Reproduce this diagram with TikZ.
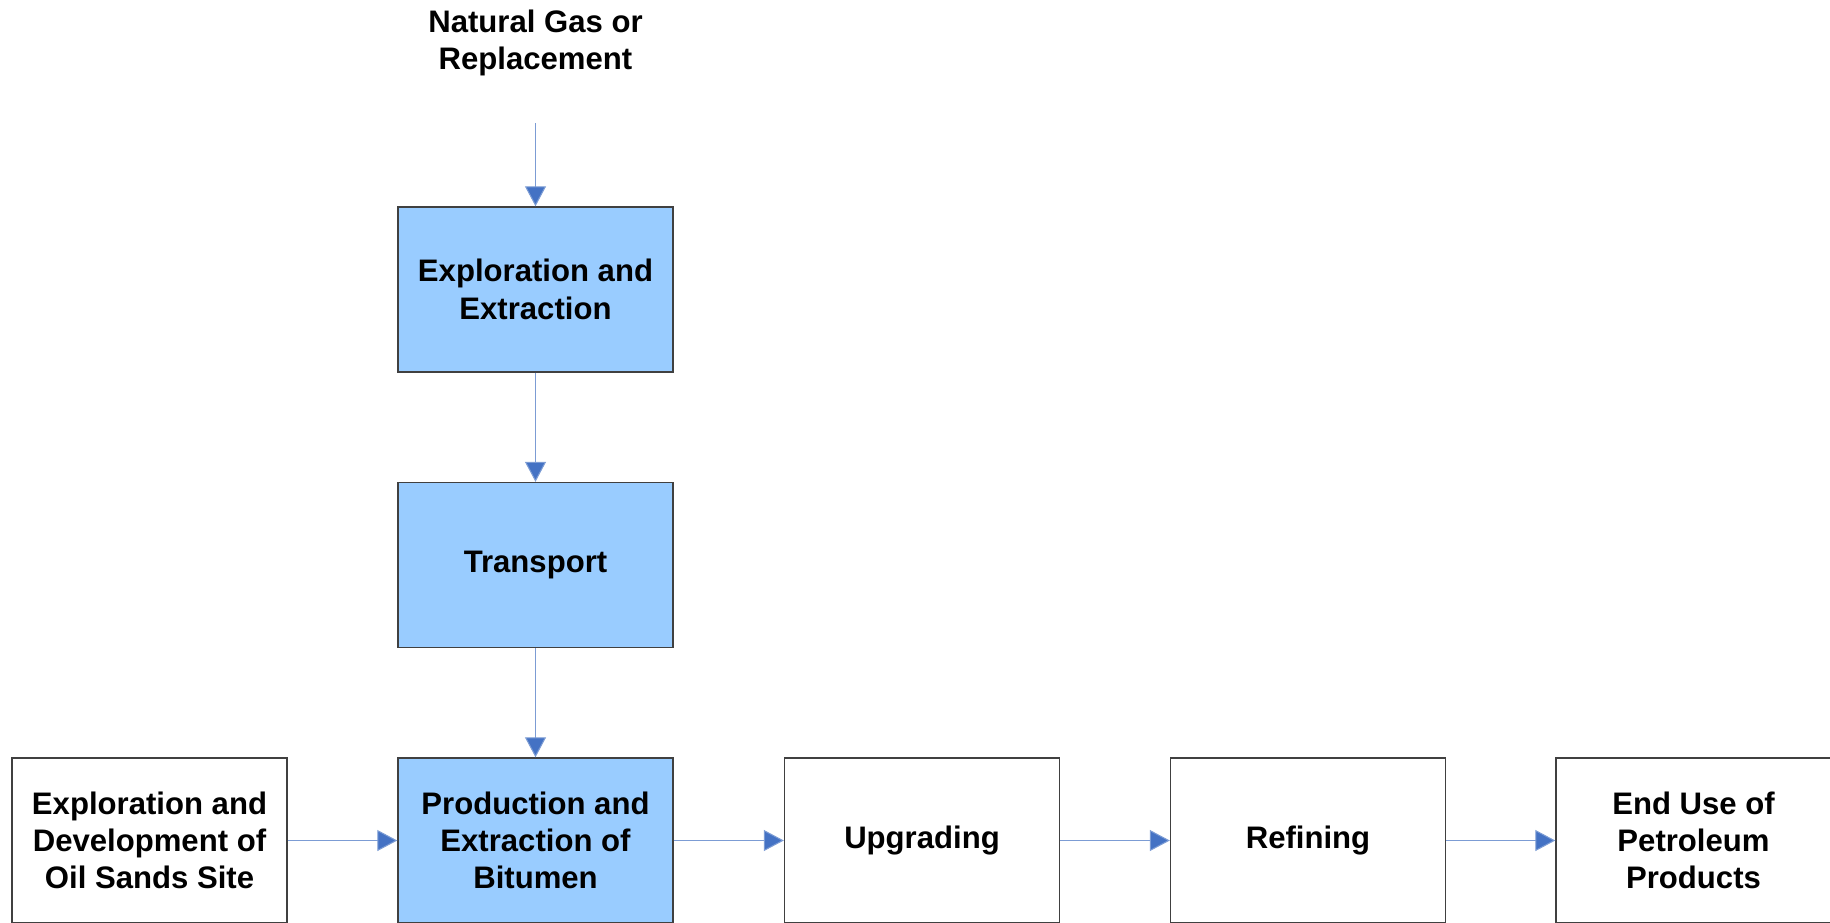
\documentclass[tikz,border=0pt]{standalone}
\usepackage{fontspec}
\setmainfont{Liberation Sans}
\usepackage{xcolor}
\usetikzlibrary{arrows.meta,positioning}

\definecolor{boxblue}{HTML}{99CCFF}
\definecolor{tipblue}{HTML}{4472C4}
\definecolor{lineblue}{HTML}{7C9CD4}
\definecolor{edgegray}{HTML}{404040}

\begin{document}
\begin{tikzpicture}[
    stage/.style={draw=edgegray, line width=0.8pt, fill=white, minimum width=5.5cm, minimum height=3.3cm, align=center, font=\bfseries\fontsize{17.7}{21.2}\selectfont},
    shaded/.style={stage, fill=boxblue},
    flow/.style={draw=lineblue, line width=0.6pt, -{Triangle[length=0.4cm, width=0.42cm, fill=tipblue]}},
    lbl/.style={align=center, font=\bfseries\fontsize{17.7}{21.2}\selectfont}
]
\useasboundingbox (0,0) rectangle (36.6,-18.44);

% Natural gas supply
\node[lbl] (gas) at (10.71,-0.86) {Natural Gas or\\Replacement};
\coordinate (gasin) at (10.71,-2.46);

% Upstream chain
\node[shaded] (explore) at (10.71,-5.79) {Exploration and\\Extraction};
\node[shaded] (transport) at (10.71,-11.3) {Transport};
\draw[flow] (gasin) -- (explore);
\draw[flow] (explore) -- (transport);

% Oil sands chain
\node[stage] (site) at (2.99,-16.81) {Exploration and\\Development of\\Oil Sands Site};
\node[shaded] (bitumen) at (10.71,-16.81) {Production and\\Extraction of\\Bitumen};
\node[stage] (upgrade) at (18.44,-16.81) {Upgrading};
\node[stage] (refine) at (26.16,-16.81) {Refining};
\node[stage] (enduse) at (33.87,-16.81) {End Use of\\Petroleum\\Products};

\draw[flow] (transport) -- (bitumen);
\draw[flow] (site) -- (bitumen);
\draw[flow] (bitumen) -- (upgrade);
\draw[flow] (upgrade) -- (refine);
\draw[flow] (refine) -- (enduse);
\end{tikzpicture}
\end{document}
